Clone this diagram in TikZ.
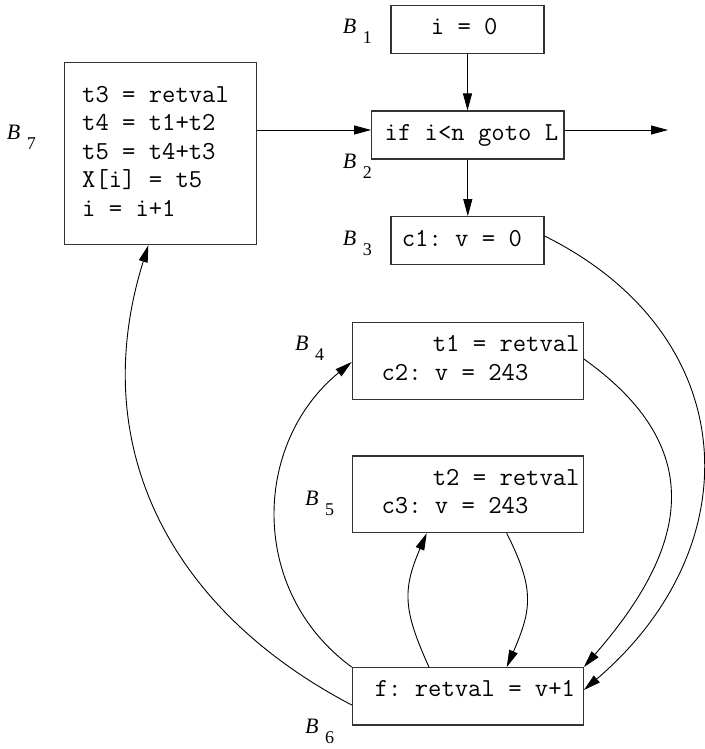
\documentclass[tikz,border=0pt]{standalone}
\usepackage{fontspec}
\setmainfont{Liberation Serif}
\usetikzlibrary{arrows.meta}
\newcommand\Blab[1]{\makebox[20pt][l]{\fontsize{22}{22}\selectfont\itshape B}\raisebox{-10pt}{\fontsize{18}{18}\selectfont #1}}
\begin{document}
\frenchspacing
\begin{tikzpicture}[x=1pt,y=-1pt,
  blk/.style={draw=black!80, line width=1.1pt, inner sep=0pt},
  code/.style={font=\ttfamily\fontsize{25.9}{28.3}\selectfont\frenchspacing, inner sep=0pt, anchor=base},
  codel/.style={code, anchor=base west},
  lbl/.style={inner sep=0pt, anchor=base west},
  edge/.style={line width=0.9pt, -{Triangle[length=17pt,width=9pt]}}]
\useasboundingbox (0,0) rectangle (704,749);

% blocks
\node[blk, minimum width=153pt,   minimum height=48pt]   (b1) at (467.5,29.3)  {};
\node[blk, minimum width=192.3pt, minimum height=48pt]   (b2) at (467.8,135)   {};
\node[blk, minimum width=153pt,   minimum height=47.6pt] (b3) at (467.5,240.5) {};
\node[blk, minimum width=192.4pt, minimum height=182pt]  (b7) at (160.5,153.7) {};
\node[blk, minimum width=231pt,   minimum height=76.7pt] (b4) at (467.8,360.7) {};
\node[blk, minimum width=231pt,   minimum height=76.7pt] (b5) at (467.8,494.3) {};
\node[blk, minimum width=231pt,   minimum height=57.3pt] (b6) at (467.8,696.3) {};

% code texts
\node[code] (t1) at (464.2,34.3) {i = 0};
\node[code] (t2) at (471.4,140) {if i<n goto L};
\node[code] (t3) at (461.9,246.7) {c1: v = 0};
\node[codel] (t7a) at (82,102.7) {t3 = retval};
\node[codel] (t7b) at (82,131) {t4 = t1+t2};
\node[codel] (t7c) at (82,159.3) {t5 = t4+t3};
\node[codel] (t7d) at (82,187.6) {X[i] = t5};
\node[codel] (t7e) at (82,216) {i = i+1};
\node[code] (t4a) at (506.2,351.7) {t1 = retval};
\node[code] (t4b) at (455,380.7) {c2: v = 243};
\node[code] (t5a) at (506.2,485) {t2 = retval};
\node[code] (t5b) at (455,513.3) {c3: v = 243};
\node[code] (t6) at (474.9,696.7) {f: retval = v+1};

% block labels
\node[lbl] (l1) at (342.7,33.3) {\Blab{1}};
\node[lbl] (l2) at (342.7,168.7) {\Blab{2}};
\node[lbl] (l3) at (342.7,245) {\Blab{3}};
\node[lbl] (l7) at (6.7,139.3) {\Blab{7}};
\node[lbl] (l4) at (295,350.7) {\Blab{4}};
\node[lbl] (l5) at (305,505) {\Blab{5}};
\node[lbl] (l6) at (305,733.3) {\Blab{6}};

% straight edges
\draw[edge] (b1.south) -- (b1.south |- b2.north);
\draw[edge] (b2.south) -- (b2.south |- b3.north);
\coordinate (in2) at ([yshift=5pt]b2.west);
\draw[edge] (b7.east |- in2) -- (in2);
\coordinate (exit) at (668,130);
\draw[edge] ([yshift=5pt]b2.east) -- (exit);

% curved edges
\draw[edge] ([yshift=4.5pt]b3.east) .. controls (743.7,334.8) and (752.5,546.1) .. ([yshift=6.3pt]b6.east);
\draw[edge] ([yshift=1.7pt]b4.east) .. controls (710.8,449.6) and (686.8,549.1) .. (b6.north east);
\draw[edge] (b6.north west) .. controls (248.2,591.3) and (252.4,443.2) .. ([yshift=-1.3pt]b4.west);
\draw[edge] ([xshift=-38.8pt]b6.north) .. controls (403.4,610.8) and (402.1,590.1) .. ([xshift=-41.1pt]b5.south);
\draw[edge] ([xshift=38.9pt]b5.south) .. controls (534.8,588.9) and (531.9,609.1) .. ([xshift=38.9pt]b6.north);
\draw[edge] ([yshift=-8.7pt]b6.west) .. controls (174.5,612.4) and (84.2,450.3) .. ([xshift=-12.2pt]b7.south);
\end{tikzpicture}
\end{document}
